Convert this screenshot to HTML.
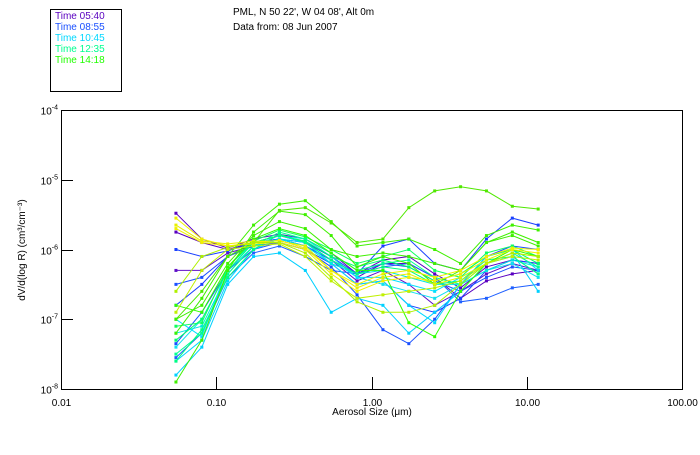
<!DOCTYPE html>
<html><head><meta charset="utf-8"><style>
body{margin:0;background:#fff;width:700px;height:450px;overflow:hidden;font-family:"Liberation Sans",sans-serif}
svg text{font-family:"Liberation Sans",sans-serif;font-size:10px}
</style></head><body>
<svg id="chart" width="700" height="450" xmlns="http://www.w3.org/2000/svg">
<rect x="50.5" y="9.5" width="71" height="82" fill="none" stroke="#000"/>
<g>
<text x="55" y="19" fill="#5a00c0">Time 05:40</text>
<text x="55" y="30" fill="#1a50ff">Time 08:55</text>
<text x="55" y="41" fill="#00d8ff">Time 10:45</text>
<text x="55" y="52" fill="#00ff90">Time 12:35</text>
<text x="55" y="63" fill="#20ff00">Time 14:18</text>
</g>
<text x="233" y="15">PML, N 50 22', W 04 08', Alt 0m</text>
<text x="233" y="30">Data from: 08 Jun 2007</text>
<rect x="61.5" y="110.5" width="621" height="279" fill="none" stroke="#000"/>
<g id="axes"></g>
<g id="series"></g>
<text x="372" y="415" text-anchor="middle">Aerosol Size (μm)</text>
<text transform="translate(25,250) rotate(-90)" text-anchor="middle">dV/d(log R) (cm³/cm⁻³)</text>
</svg>
<script>
const xTicks=[0.01,0.1,1,10,100];
const xTickLabels=["0.01","0.10","1.00","10.00","100.00"];
const yTicks=[-4,-5,-6,-7,-8];
const sizes=[0.055,0.0647,0.0762,0.0897,0.1056,0.1243,0.1463,0.1722,0.2027,0.2386,0.2808,0.3306,0.3891,0.458,0.539].map((v,i)=>0.055*Math.pow(10,i/6));
const seriesColors=["#5a00c0","#5a00c0","#6010c8","#1a40ff","#1a40ff","#1a50ff","#2060ff","#1a50ff","#00d0ff","#00d8ff","#10e0f0","#00e8e0","#00e0ff","#00ff90","#00ff70","#00ff80","#10ff60","#40f000","#40f000","#50e800","#40f000","#30ff00","#f0f000","#e8f000","#f0f000","#b0f000","#c0f000"];
const s0=[-5.48,-5.85,-5.98,-5.85,-5.78,-5.85,-6.05,-6.35,-6.15,-6.1,-6.35,-6.55,-6.25,-6.15,-6.2];
const s1=[-5.75,-5.9,-6.0,-5.9,-5.8,-5.9,-6.1,-6.4,-6.2,-6.2,-6.4,-6.7,-6.45,-6.35,-6.3];
const s2=[-6.3,-6.3,-6.05,-5.95,-5.85,-5.95,-6.15,-6.45,-6.3,-6.5,-6.8,-6.6,-6.35,-6.2,-6.3];
const s3=[-6.0,-6.1,-6.02,-5.9,-5.85,-5.9,-6.1,-6.35,-5.95,-5.85,-6.2,-6.3,-5.85,-5.55,-5.65];
const s4=[-6.8,-6.5,-6.1,-5.95,-5.9,-6.0,-6.2,-6.5,-6.45,-6.8,-6.9,-6.7,-6.3,-6.15,-6.2];
const s5=[-7.35,-6.9,-6.3,-6.0,-5.9,-6.0,-6.25,-6.65,-7.15,-7.35,-7.0,-6.5,-6.1,-5.95,-6.0];
const s6=[-7.55,-7.2,-6.4,-6.05,-5.95,-6.1,-6.3,-6.35,-6.25,-6.2,-6.4,-6.75,-6.7,-6.55,-6.5];
const s7=[-6.5,-6.4,-6.1,-5.9,-5.85,-5.95,-6.15,-6.35,-6.2,-6.25,-6.45,-6.6,-6.4,-6.25,-6.3];
const s8=[-7.8,-7.4,-6.5,-6.1,-6.05,-6.3,-6.9,-6.7,-6.8,-7.2,-6.9,-6.6,-6.2,-6.05,-6.6];
const s9=[-7.6,-7.3,-6.45,-6.0,-5.85,-5.9,-6.2,-6.5,-6.45,-6.8,-7.05,-6.5,-6.1,-6.0,-6.3];
const s10=[-7.4,-7.0,-6.3,-5.95,-5.8,-5.85,-6.1,-6.4,-6.5,-6.6,-6.7,-6.5,-6.3,-6.2,-6.4];
const s11=[-7.2,-7.1,-6.35,-5.95,-5.85,-5.95,-6.2,-6.35,-6.3,-6.4,-6.5,-6.5,-6.3,-6.15,-6.25];
const s12=[-7.0,-7.25,-6.25,-5.9,-5.8,-5.9,-6.15,-6.4,-6.4,-6.5,-6.6,-6.4,-6.2,-6.1,-6.35];
const s13=[-7.5,-7.2,-6.35,-5.95,-5.75,-5.85,-6.05,-6.3,-6.2,-6.15,-6.4,-6.5,-6.2,-6.05,-6.25];
const s14=[-7.3,-7.0,-6.3,-5.9,-5.8,-5.88,-6.1,-6.25,-6.15,-6.25,-6.45,-6.35,-6.1,-6.0,-6.2];
const s15=[-7.6,-7.15,-6.4,-6.0,-5.78,-5.9,-6.15,-6.35,-6.25,-6.3,-6.5,-6.45,-6.15,-6.1,-6.35];
const s16=[-7.1,-7.05,-6.25,-5.88,-5.72,-5.82,-6.0,-6.2,-6.1,-6.0,-6.3,-6.4,-6.05,-5.95,-6.1];
const s17=[-7.9,-7.3,-6.3,-5.75,-5.45,-5.5,-5.8,-6.25,-6.1,-6.2,-6.5,-6.3,-5.9,-5.8,-5.95];
const s18=[-7.2,-6.7,-6.1,-5.65,-5.35,-5.3,-5.6,-5.95,-5.9,-5.85,-6.0,-6.2,-5.8,-5.65,-5.72];
const s19=[-7.0,-6.6,-6.1,-5.9,-5.44,-5.4,-5.62,-5.9,-5.85,-5.4,-5.16,-5.1,-5.16,-5.38,-5.42];
const s20=[-7.0,-6.8,-6.2,-5.8,-5.6,-5.7,-6.0,-6.1,-6.05,-6.1,-6.2,-6.3,-5.9,-5.75,-5.9];
const s21=[-6.8,-6.9,-6.25,-5.85,-5.7,-5.8,-6.05,-6.3,-6.3,-7.05,-7.25,-6.6,-6.2,-6.0,-6.1];
const s22=[-5.55,-5.85,-5.95,-5.92,-5.9,-6.0,-6.35,-6.6,-6.45,-6.4,-6.45,-6.35,-6.15,-6.0,-6.05];
const s23=[-5.65,-5.88,-5.92,-5.88,-5.88,-5.95,-6.3,-6.55,-6.4,-6.35,-6.5,-6.4,-6.2,-6.05,-6.1];
const s24=[-5.7,-5.9,-5.95,-5.9,-5.87,-5.98,-6.3,-6.5,-6.35,-6.3,-6.4,-6.3,-6.1,-5.98,-6.0];
const s25=[-6.6,-6.1,-5.97,-5.9,-5.9,-6.05,-6.4,-6.75,-6.9,-6.9,-6.8,-6.5,-6.2,-6.05,-6.1];
const s26=[-6.9,-6.3,-6.0,-5.95,-5.92,-6.1,-6.45,-6.7,-6.65,-6.6,-6.55,-6.45,-6.2,-6.1,-6.15];
const allSeries=[s0,s1,s2,s3,s4,s5,s6,s7,s8,s9,s10,s11,s12,s13,s14,s15,s16,s17,s18,s19,s20,s21,s22,s23,s24,s25,s26];
const NS="http://www.w3.org/2000/svg";
const X0=61,X1=682,Y0=110,Y1=389;
function xs(v){return X0+(Math.log10(v)+2)/4*(X1-X0);}
function ys(lg){return Y0+(-4-lg)/4*(Y1-Y0);}
const ax=document.getElementById('axes');
xTicks.forEach((t,i)=>{
  const x=Math.round(xs(t))+0.5;
  if(i>0&&i<xTicks.length-1){const l=document.createElementNS(NS,'line');
  l.setAttribute('x1',x);l.setAttribute('x2',x);l.setAttribute('y1',Y1);l.setAttribute('y2',Y1-12);l.setAttribute('stroke','#000');
  
  ax.appendChild(l);}
  const tx=document.createElementNS(NS,'text');
  tx.setAttribute('x',x);tx.setAttribute('y',Y1+17);tx.setAttribute('text-anchor','middle');tx.textContent=xTickLabels[i];
  
  ax.appendChild(tx);
});
yTicks.forEach((t,i)=>{
  const y=Math.round(ys(t))+0.5;
  if(i>0&&i<yTicks.length-1){const l=document.createElementNS(NS,'line');
  l.setAttribute('x1',X0);l.setAttribute('x2',X0+12);l.setAttribute('y1',y);l.setAttribute('y2',y);l.setAttribute('stroke','#000');
  
  ax.appendChild(l);}
  const tx=document.createElementNS(NS,'text');
  tx.setAttribute('x',X0-3);tx.setAttribute('y',y+4);tx.setAttribute('text-anchor','end');
  tx.innerHTML='10<tspan dy="-5" font-size="7">'+t+'</tspan>';
  
  ax.appendChild(tx);
});
const sg=document.getElementById('series');
allSeries.forEach((s,k)=>{
  const c=seriesColors[k];
  const p=document.createElementNS(NS,'polyline');
  p.setAttribute('points',s.map((v,i)=>xs(sizes[i]).toFixed(1)+','+ys(v).toFixed(1)).join(' '));
  p.setAttribute('fill','none');p.setAttribute('stroke',c);p.setAttribute('stroke-width','1');
  
  sg.appendChild(p);
  s.forEach((v,i)=>{const r=document.createElementNS(NS,'rect');
    r.setAttribute('x',xs(sizes[i])-1.5);r.setAttribute('y',ys(v)-1.5);r.setAttribute('width',3);r.setAttribute('height',3);r.setAttribute('fill',c);
    
    sg.appendChild(r);});
});
</script>
</body></html>
